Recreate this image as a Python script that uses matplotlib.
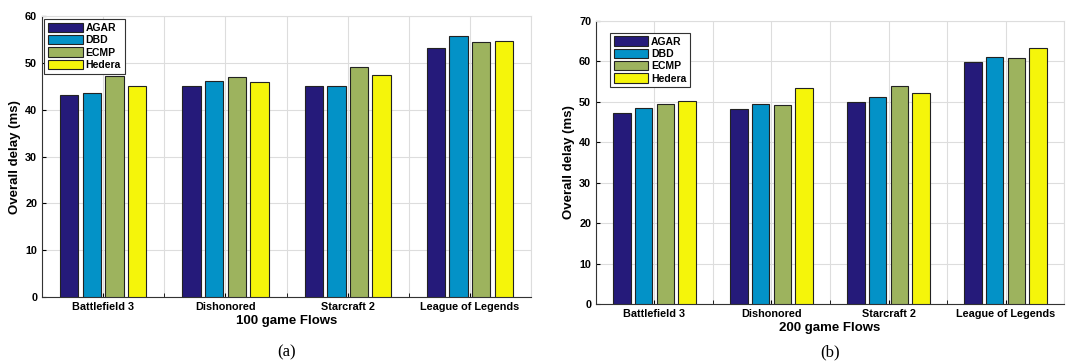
import matplotlib.pyplot as plt
import numpy as np

games = ['Battlefield 3', 'Dishonored', 'Starcraft 2', 'League of Legends']
methods = ['AGAR', 'DBD', 'ECMP', 'Hedera']
colors = ['#251a7a', '#0392c7', '#9db35e', '#f5f50a']

# 100 game flows
delay_100 = {
    'AGAR':   [43.2, 45.2, 45.2, 53.2],
    'DBD':    [43.5, 46.1, 45.0, 55.7],
    'ECMP':   [47.3, 47.0, 49.1, 54.6],
    'Hedera': [45.2, 46.0, 47.4, 54.8],
}
# 200 game flows
delay_200 = {
    'AGAR':   [47.3, 48.1, 50.0, 59.8],
    'DBD':    [48.4, 49.5, 51.2, 61.2],
    'ECMP':   [49.5, 49.1, 54.0, 60.8],
    'Hedera': [50.1, 53.3, 52.2, 63.2],
}

plt.rcParams['font.family'] = 'Liberation Sans'
plt.rcParams['font.weight'] = 'bold'

fig = plt.figure(figsize=(10.7, 3.61), dpi=100)
ax1 = fig.add_axes([0.0393, 0.177, 0.457, 0.778])
ax2 = fig.add_axes([0.557, 0.158, 0.4374, 0.784])


def draw(ax, data, ymax, xlabel, caption, cap_y, leg_anchor):
    x = np.arange(1, len(games) + 1)
    step, width = 0.185, 0.15
    for i, m in enumerate(methods):
        ax.bar(x + (i - 1.5) * step, data[m], width, color=colors[i],
               edgecolor='#222222', linewidth=0.8, label=m, zorder=3)
    ax.set_xlim(0.5, 4.5)
    ax.set_ylim(0, ymax)
    ax.set_yticks(np.arange(0, ymax + 1, 10))
    ax.set_xticks(x)
    ax.set_xticklabels(games, fontsize=7.8, fontweight='bold')
    ax.set_xticks(np.arange(0.5, 4.6, 0.5), minor=True)
    ax.tick_params(axis='y', labelsize=7.8, direction='in', length=3)
    ax.tick_params(axis='x', which='both', direction='in', length=3)
    ax.grid(True, which='both', axis='x', color='#dddddd', linewidth=0.8, zorder=0)
    ax.grid(True, which='major', axis='y', color='#dddddd', linewidth=0.8, zorder=0)
    ax.set_xlabel(xlabel, fontsize=9.5, fontweight='bold', labelpad=2)
    ax.set_ylabel('Overall delay (ms)', fontsize=9.5, fontweight='bold', labelpad=3)
    for s in ['left', 'bottom']:
        ax.spines[s].set_color('#333333')
    for s in ['top', 'right']:
        ax.spines[s].set_color('#dddddd')
    leg = ax.legend(loc='upper left', bbox_to_anchor=leg_anchor,
                    prop={'weight': 'bold', 'size': 7.5},
                    fancybox=False, framealpha=1, edgecolor='#333333',
                    borderpad=0.35, labelspacing=0.2, handlelength=3.3,
                    handleheight=1.0, handletextpad=0.3, borderaxespad=0)
    leg.get_frame().set_linewidth(0.8)
    ax.text(0.5, cap_y, caption, transform=ax.transAxes, ha='center', va='center',
            fontsize=12, family='Liberation Serif', fontweight='normal')


draw(ax1, delay_100, 60, '100 game Flows', '(a)', -0.196, (0.005, 0.99))
draw(ax2, delay_200, 70, '200 game Flows', '(b)', -0.17, (0.03, 0.958))

fig.savefig('out.png', dpi=100)
